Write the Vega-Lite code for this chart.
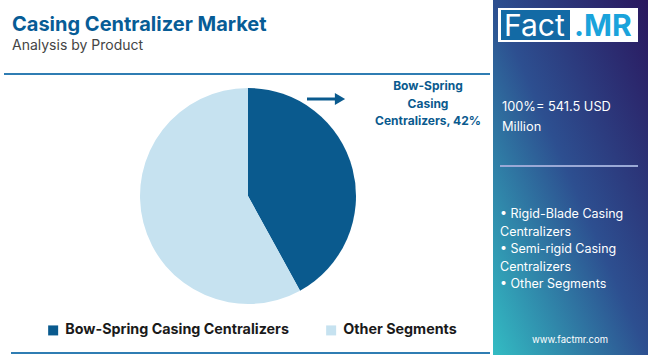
{
  "$schema": "https://vega.github.io/schema/vega-lite/v6.json",
  "width": 650,
  "height": 355,
  "autosize": {"type": "fit", "contains": "padding"},
  "padding": 0,
  "background": "white",
  "config": {"view": {"stroke": null}, "font": "Inter"},
  "datasets": {
    "pie": [
      {"segment": "Bow-Spring Casing Centralizers", "share": 42},
      {"segment": "Other Segments", "share": 58}
    ]
  },
  "data": {"name": "pie"},
  "layer": [
    {
      "mark": {"type": "rect", "fill": {"gradient": "linear", "x1": 1, "y1": 0, "x2": 0, "y2": 1, "stops": [{"offset": 0, "color": "#2a175e"}, {"offset": 0.5, "color": "#2d4f90"}, {"offset": 1, "color": "#33bcc3"}]}},
      "data": {"values": [{}]},
      "encoding": {
        "x": {"datum": 493, "type": "quantitative", "scale": {"domain": [0, 650], "nice": false, "zero": false}, "axis": null},
        "x2": {"datum": 648},
        "y": {"datum": 0, "type": "quantitative", "scale": {"domain": [0, 355], "reverse": true, "nice": false, "zero": false}, "axis": null},
        "y2": {"datum": 355}
      }
    },
    {
      "mark": {"type": "rule", "stroke": "#2f7db3", "strokeWidth": 2},
      "data": {"values": [{"a": 4, "b": 490, "h": 74}, {"a": 11, "b": 490, "h": 353}]},
      "encoding": {
        "x": {"field": "a", "type": "quantitative"},
        "x2": {"field": "b"},
        "y": {"field": "h", "type": "quantitative"}
      }
    },
    {
      "mark": {"type": "text", "align": "left", "baseline": "alphabetic", "fontSize": 20, "fontWeight": "bold", "color": "#075c96", "text": "Casing Centralizer Market"},
      "data": {"values": [{}]},
      "encoding": {"x": {"datum": 12, "type": "quantitative"}, "y": {"datum": 31, "type": "quantitative"}}
    },
    {
      "mark": {"type": "text", "align": "left", "baseline": "alphabetic", "fontSize": 14, "color": "#444444", "text": "Analysis by Product"},
      "data": {"values": [{}]},
      "encoding": {"x": {"datum": 12, "type": "quantitative"}, "y": {"datum": 50, "type": "quantitative"}}
    },
    {
      "mark": {"type": "arc", "outerRadius": 108},
      "encoding": {
        "x": {"datum": 248, "type": "quantitative"},
        "y": {"datum": 196, "type": "quantitative"},
        "theta": {"field": "share", "type": "quantitative", "stack": true},
        "order": {"field": "segment", "sort": "ascending"},
        "color": {
          "field": "segment", "type": "nominal",
          "scale": {"domain": ["Bow-Spring Casing Centralizers", "Other Segments"], "range": ["#0a5a8e", "#c6e2f0"]},
          "legend": {"title": null, "orient": "none", "legendX": 46, "legendY": 323, "direction": "horizontal", "symbolType": "square", "symbolSize": 100, "symbolStrokeWidth": 0, "labelFontSize": 14.3, "labelFontWeight": "bold", "labelColor": "#1a1a1a", "labelFont": "Inter", "columnPadding": 35, "labelOffset": 5, "labelLimit": 400}
        }
      }
    },
    {
      "mark": {"type": "rule", "stroke": "#0a5a8e", "strokeWidth": 3},
      "data": {"values": [{}]},
      "encoding": {"x": {"datum": 307, "type": "quantitative"}, "x2": {"datum": 336}, "y": {"datum": 99, "type": "quantitative"}}
    },
    {
      "mark": {"type": "point", "shape": "triangle-right", "filled": true, "color": "#0a5a8e", "size": 140, "opacity": 1},
      "data": {"values": [{}]},
      "encoding": {"x": {"datum": 340, "type": "quantitative"}, "y": {"datum": 99, "type": "quantitative"}}
    },
    {
      "mark": {"type": "text", "align": "center", "baseline": "middle", "fontSize": 12, "fontWeight": "bold", "color": "#0a5a8e", "lineHeight": 17.5, "text": ["Bow-Spring", "Casing", "Centralizers, 42%"]},
      "data": {"values": [{}]},
      "encoding": {"x": {"datum": 428, "type": "quantitative"}, "y": {"datum": 86, "type": "quantitative"}}
    },
    {
      "mark": {"type": "rect", "fill": "white"},
      "data": {"values": [{}]},
      "encoding": {"x": {"datum": 498, "type": "quantitative"}, "x2": {"datum": 638}, "y": {"datum": 8, "type": "quantitative"}, "y2": {"datum": 42}}
    },
    {
      "mark": {"type": "rect", "fill": "#136aa5"},
      "data": {"values": [{}]},
      "encoding": {"x": {"datum": 501, "type": "quantitative"}, "x2": {"datum": 570}, "y": {"datum": 10, "type": "quantitative"}, "y2": {"datum": 40}}
    },
    {
      "mark": {"type": "text", "align": "left", "baseline": "alphabetic", "fontSize": 30, "color": "white", "text": "Fact"},
      "data": {"values": [{}]},
      "encoding": {"x": {"datum": 504, "type": "quantitative"}, "y": {"datum": 36, "type": "quantitative"}}
    },
    {
      "mark": {"type": "text", "align": "left", "baseline": "alphabetic", "fontSize": 30, "fontWeight": "bold", "color": "#1aa3db", "text": ".MR"},
      "data": {"values": [{}]},
      "encoding": {"x": {"datum": 574, "type": "quantitative"}, "y": {"datum": 36, "type": "quantitative"}}
    },
    {
      "mark": {"type": "text", "align": "left", "baseline": "middle", "fontSize": 12.8, "color": "white", "lineHeight": 20, "text": ["100%= 541.5 USD", "Million"]},
      "data": {"values": [{}]},
      "encoding": {"x": {"datum": 502, "type": "quantitative"}, "y": {"datum": 107, "type": "quantitative"}}
    },
    {
      "mark": {"type": "rule", "stroke": "#9aa9d6", "strokeWidth": 2},
      "data": {"values": [{}]},
      "encoding": {"x": {"datum": 500, "type": "quantitative"}, "x2": {"datum": 638}, "y": {"datum": 166, "type": "quantitative"}}
    },
    {
      "mark": {"type": "text", "align": "left", "baseline": "middle", "fontSize": 12.5, "color": "white", "lineHeight": 17.5, "text": ["• Rigid-Blade Casing", "Centralizers", "• Semi-rigid Casing", "Centralizers", "• Other Segments"]},
      "data": {"values": [{}]},
      "encoding": {"x": {"datum": 500, "type": "quantitative"}, "y": {"datum": 214, "type": "quantitative"}}
    },
    {
      "mark": {"type": "text", "align": "center", "baseline": "middle", "fontSize": 9.5, "color": "white", "text": "www.factmr.com"},
      "data": {"values": [{}]},
      "encoding": {"x": {"datum": 570, "type": "quantitative"}, "y": {"datum": 340, "type": "quantitative"}}
    }
  ]
}
